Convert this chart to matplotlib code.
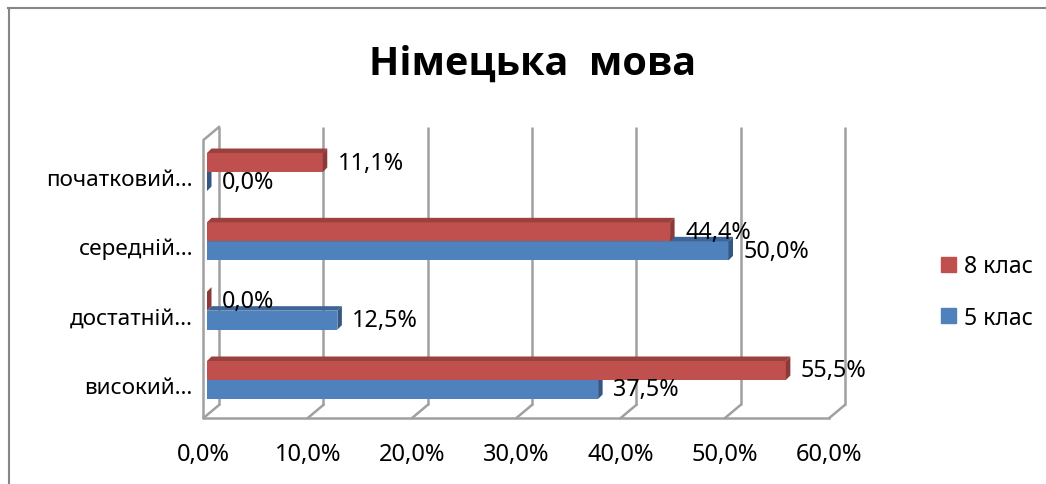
import matplotlib
matplotlib.use("Agg")
import matplotlib.pyplot as plt
from matplotlib.patches import Polygon, Patch
from matplotlib.lines import Line2D

plt.rcParams['font.family'] = ['Noto Sans', 'DejaVu Sans']

# data
categories = ['високий…', 'достатній…', 'середній…', 'початковий…']
series_names = ['8 клас', '5 клас']
class8 = [55.5, 0.0, 44.4, 11.1]
class5 = [37.5, 12.5, 50.0, 0.0]
x_ticks = [0, 10, 20, 30, 40, 50, 60]
title = 'Німецька  мова'

# colours (front, top, side)
red = ('#C0504D', '#9A413E', '#8A3A37')
blue = ('#4F81BD', '#3E6596', '#345783')
grid_col = '#A0A0A0'

W, H = 1046, 485
PX_PCT = 10.43     # pixels per percent
X0 = 219           # pixel x of 0 % on back wall
PX_CAT = 69.33     # pixels per category
Y0 = 381           # pixel y of category 0


def dx(p):
    return p / PX_PCT


def dy(p):
    # p in pixels, positive = down
    return -p / PX_CAT


def pct(v):
    return ('%.1f%%' % v).replace('.', ',')


fig = plt.figure(figsize=(W / 100, H / 100), dpi=100)
ax = fig.add_axes([0, 0, 1, 1])
ax.set_xlim(-X0 / PX_PCT, (W - X0) / PX_PCT)
ax.set_ylim((Y0 - H) / PX_CAT, Y0 / PX_CAT)
ax.axis('off')

# walls and floor
y_top = dy(128 - Y0)
y_floor = dy(406 - Y0)
fx, fy = dx(-15.5), dy(13)
for t in x_ticks:
    ax.plot([t, t], [y_floor, y_top], color=grid_col, lw=1.8, zorder=1,
            solid_capstyle='butt')
    ax.plot([t, t + fx], [y_floor, y_floor + fy], color=grid_col, lw=1.8, zorder=1)
ax.plot([x_ticks[0] + fx, x_ticks[-1] + fx], [y_floor + fy, y_floor + fy],
        color=grid_col, lw=1.8, zorder=1)
ax.plot([fx, fx, 0], [y_floor + fy, y_top + fy, y_top], color=grid_col, lw=1.8, zorder=1)

# bars
bx = dx(-12)
h = 19 / PX_CAT
ddx, ddy = dx(4.5), -dy(4.5)


def bar3d(y0, v, cols, z):
    ax.barh(y0 + h / 2, v, left=bx, height=h, color=cols[0], zorder=z, linewidth=0)
    top, bot, r = y0 + h, y0, bx + v
    ax.add_patch(Polygon([(bx, top), (r, top), (r + ddx, top + ddy), (bx + ddx, top + ddy)],
                         closed=True, facecolor=cols[1], edgecolor='none', zorder=z))
    ax.add_patch(Polygon([(r, bot), (r, top), (r + ddx, top + ddy), (r + ddx, bot + ddy)],
                         closed=True, facecolor=cols[2], edgecolor='none', zorder=z))
    ax.text(r + dx(15), y0 + h / 2, pct(v), ha='left', va='center', fontsize=16.8,
            zorder=10)


for i, cat in enumerate(categories):
    bar3d(i - h, class5[i], blue, 3)
    bar3d(i, class8[i], red, 4)
    ax.text(dx(193 - X0), i + dy(13), cat, ha='right', va='baseline', fontsize=16.2)

for t in x_ticks:
    ax.text(t + fx, dy(461 - Y0), pct(t), ha='center', va='baseline', fontsize=17)

ax.text(dx(533 - X0), dy(75 - Y0), title, ha='center', va='baseline',
        fontsize=28.5, fontweight='bold', family=['Open Sans', 'DejaVu Sans'])

handles = [Patch(color=red[0]), Patch(color=blue[0])]
fig.legend(handles, series_names, loc='center left', frameon=False,
           bbox_to_anchor=(920 / W, 1 - 293 / H), fontsize=16.5,
           handlelength=0.65, handleheight=0.65, handletextpad=0.35, labelspacing=1.2)

# outer border
fig.add_artist(Line2D([8.5 / W, 8.5 / W], [0, 1 - 9 / H], color='#868686', lw=1.5))
fig.add_artist(Line2D([8 / W, 1], [1 - 9 / H, 1 - 9 / H], color='#868686', lw=1.5))

fig.savefig('out.png', dpi=100)
